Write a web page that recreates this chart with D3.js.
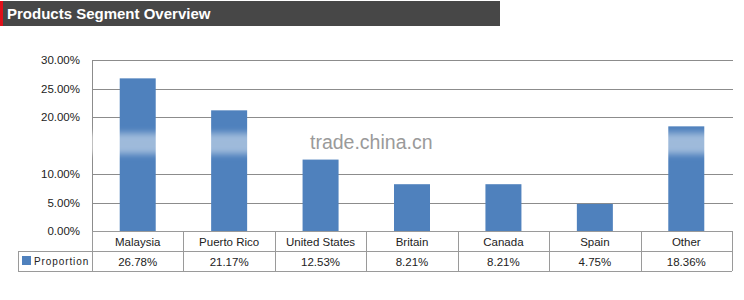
<!DOCTYPE html>
<html>
<head>
<meta charset="utf-8">
<script src="https://cdn.jsdelivr.net/npm/d3@7"></script>
<style>
  body { margin: 0; background: #fff; }
  svg { display: block; font-family: "Liberation Sans", Arial, sans-serif; }
</style>
</head>
<body>
<div id="chart"></div>
<script>
// data
var categories = ["Malaysia", "Puerto Rico", "United States", "Britain", "Canada", "Spain", "Other"];
var proportion = [26.78, 21.17, 12.53, 8.21, 8.21, 4.75, 18.36];
var yTicks = [0, 5, 10, 20, 25, 30]; // 15% is hidden under the watermark band
var seriesName = "Proportion";
var title = "Products Segment Overview";

var W = 744, H = 300;
var plot = {left: 92, right: 732, top: 60, bottom: 231};
var rowH = 20;

var svg = d3.select("#chart").append("svg")
    .attr("width", W)
    .attr("height", H);

// title bar
svg.append("rect").attr("x", 0).attr("y", 1).attr("width", 500).attr("height", 25).attr("fill", "#474747");
svg.append("rect").attr("x", 0).attr("y", 1).attr("width", 3).attr("height", 25).attr("fill", "#e0101a");
svg.append("text")
    .attr("x", 7).attr("y", 18.5)
    .attr("fill", "#fff")
    .attr("font-size", 15)
    .attr("font-weight", "bold")
    .text(title);

var x = d3.scaleBand()
    .domain(categories)
    .range([plot.left, plot.right])
    .paddingInner(0)
    .paddingOuter(0);

var y = d3.scaleLinear()
    .domain([0, 30])
    .range([plot.bottom, plot.top]);

// gridlines
svg.append("g")
    .selectAll("line")
    .data(yTicks)
  .enter().append("line")
    .attr("x1", plot.left).attr("x2", plot.right + 1)
    .attr("y1", function(d) { return Math.round(y(d)) + 0.5; })
    .attr("y2", function(d) { return Math.round(y(d)) + 0.5; })
    .attr("stroke", "#8c8c8c")
    .attr("stroke-width", 1);

// y axis labels
svg.append("g")
    .selectAll("text")
    .data(yTicks)
  .enter().append("text")
    .attr("x", 80)
    .attr("y", function(d) { return y(d) + 4; })
    .attr("text-anchor", "end")
    .attr("font-size", 11.5)
    .attr("fill", "#222")
    .text(function(d) { return d.toFixed(2) + "%"; });

// y axis line
svg.append("line")
    .attr("x1", plot.left + 0.5).attr("x2", plot.left + 0.5)
    .attr("y1", plot.top).attr("y2", plot.bottom)
    .attr("stroke", "#8c8c8c");

// bars
var barW = 36;
svg.append("g")
    .selectAll("rect")
    .data(proportion)
  .enter().append("rect")
    .attr("x", function(d, i) { return x(categories[i]) + x.bandwidth() / 2 - barW / 2; })
    .attr("y", function(d) { return y(d); })
    .attr("width", barW)
    .attr("height", function(d) { return y(0) - y(d); })
    .attr("fill", "#4f81bd");

// watermark band + text
var defs = svg.append("defs");
defs.append("filter").attr("id", "blur")
    .attr("x", "-5%").attr("y", "-60%").attr("width", "110%").attr("height", "220%")
  .append("feGaussianBlur").attr("stdDeviation", "3 3");
svg.append("rect")
    .attr("x", 84).attr("y", 133)
    .attr("width", 652).attr("height", 21)
    .attr("fill", "#fff")
    .attr("opacity", 0.45)
    .attr("filter", "url(#blur)");
svg.append("text")
    .attr("x", 310).attr("y", 149)
    .attr("font-size", 19.5)
    .attr("fill", "#9a9a9a")
    .text("trade.china.cn");

// data table
var table = svg.append("g").attr("stroke", "#9a9a9a").attr("fill", "none");
var r1 = plot.bottom, r2 = plot.bottom + rowH, r3 = plot.bottom + 2 * rowH;
table.append("line").attr("x1", plot.left).attr("x2", plot.right).attr("y1", r1 + 0.5).attr("y2", r1 + 0.5);
table.append("line").attr("x1", 18).attr("x2", plot.right).attr("y1", r2 + 0.5).attr("y2", r2 + 0.5);
table.append("line").attr("x1", 18).attr("x2", plot.right).attr("y1", r3 + 0.5).attr("y2", r3 + 0.5);
table.append("line").attr("x1", 18.5).attr("x2", 18.5).attr("y1", r2).attr("y2", r3);
table.selectAll(".col")
    .data(categories.concat(["__end"]))
  .enter().append("line")
    .attr("class", "col")
    .attr("x1", function(d, i) { return Math.round(plot.left + i * x.bandwidth()) + 0.5; })
    .attr("x2", function(d, i) { return Math.round(plot.left + i * x.bandwidth()) + 0.5; })
    .attr("y1", r1).attr("y2", r3);

svg.append("g")
    .selectAll("text")
    .data(categories)
  .enter().append("text")
    .attr("x", function(d) { return x(d) + x.bandwidth() / 2; })
    .attr("y", r1 + 15)
    .attr("text-anchor", "middle")
    .attr("font-size", 11.5)
    .attr("fill", "#222")
    .text(function(d) { return d; });

svg.append("g")
    .selectAll("text")
    .data(proportion)
  .enter().append("text")
    .attr("x", function(d, i) { return x(categories[i]) + x.bandwidth() / 2; })
    .attr("y", r2 + 15)
    .attr("text-anchor", "middle")
    .attr("font-size", 11.5)
    .attr("fill", "#222")
    .text(function(d) { return d.toFixed(2) + "%"; });

// legend key in table
svg.append("rect")
    .attr("x", 22).attr("y", r2 + 5)
    .attr("width", 9).attr("height", 9)
    .attr("fill", "#4f81bd");
svg.append("text")
    .attr("x", 34).attr("y", r2 + 13.5)
    .attr("font-size", 10)
    .attr("letter-spacing", 0.9)
    .attr("fill", "#222")
    .text(seriesName);
</script>
</body>
</html>
